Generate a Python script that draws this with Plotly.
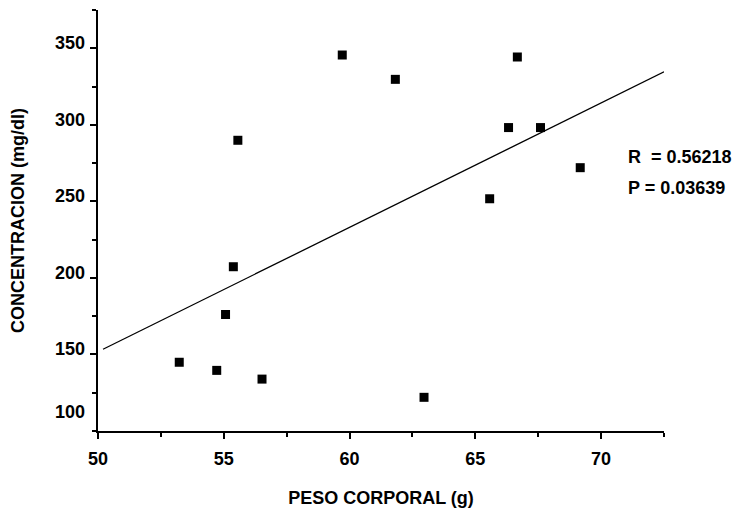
import plotly.graph_objects as go

# Data
peso = [53.23, 54.72, 55.07, 55.38, 55.56, 56.52, 59.71, 61.82, 62.96, 65.57, 66.32, 66.67, 67.59, 69.17]
concentracion = [144.9, 139.6, 176.1, 207.3, 289.9, 133.9, 345.6, 329.7, 122.0, 251.7, 298.2, 344.3, 298.2, 272.0]

fit_x = [50.2, 72.5]
fit_y = [153.4, 334.6]

x_ticks = [50, 55, 60, 65, 70]
y_ticks = [100, 150, 200, 250, 300, 350]
y_tick_labels = ["100", "150", "200", "250", "300", "350"]
stats_text = ["R  = 0.56218", "P = 0.03639"]

FONT = "Liberation Sans, Arial, sans-serif"

fig = go.Figure()
fig.add_trace(go.Scatter(
    x=fit_x, y=fit_y, mode="lines",
    line=dict(color="black", width=1.3), showlegend=False, hoverinfo="skip"))
fig.add_trace(go.Scatter(
    x=peso, y=concentracion, mode="markers",
    marker=dict(symbol="square", size=9, color="black"),
    showlegend=False))

fig.update_layout(
    width=742, height=513,
    margin=dict(l=98, r=78, t=10, b=82, autoexpand=False),
    paper_bgcolor="white", plot_bgcolor="white",
    font=dict(family=FONT, color="black", size=18),
    xaxis=dict(
        range=[50, 72.5], tickvals=x_ticks, ticktext=[str(v) for v in x_ticks],
        showgrid=False, zeroline=False, showline=True, linecolor="black", linewidth=2,
        ticks="outside", ticklen=6, tickwidth=2, tickcolor="black",
        minor=dict(dtick=2.5, tick0=50, ticks="outside", ticklen=4, tickwidth=1.5, tickcolor="black", showgrid=False),
        tickfont=dict(family=FONT, size=18, color="black", weight="bold"),
        ticklabelstandoff=4, automargin=False,
        title=dict(text="<b>PESO CORPORAL (g)</b>", font=dict(family=FONT, size=18), standoff=24),
    ),
    yaxis=dict(
        range=[100, 375], tickvals=y_ticks[1:], showticklabels=False,
        showgrid=False, zeroline=False, showline=True, linecolor="black", linewidth=2,
        ticks="outside", ticklen=6, tickwidth=2, tickcolor="black",
        minor=dict(dtick=25, tick0=100, ticks="outside", ticklen=4, tickwidth=1.5, tickcolor="black", showgrid=False),
        automargin=False,
        title=dict(text="<b>CONCENTRACION (mg/dl)</b>", font=dict(family=FONT, size=18), standoff=61),
    ),
)

# y tick labels sit a little above their ticks in the original (the 100 well above the axis)
for v, lab in zip(y_ticks, y_tick_labels):
    fig.add_annotation(
        x=0, xref="paper", y=v, yref="y", text="<b>" + lab + "</b>",
        showarrow=False, xanchor="right", yanchor="middle", xshift=-11,
        yshift=19 if v == 100 else 5,
        font=dict(family=FONT, size=18, color="black"))

fig.add_annotation(
    x=1.0, xref="paper", y=0.652, yref="paper", xanchor="left", yanchor="middle",
    text="<b>" + stats_text[0] + "</b>", showarrow=False, xshift=-38,
    font=dict(family=FONT, size=18, color="black"))
fig.add_annotation(
    x=1.0, xref="paper", y=0.578, yref="paper", xanchor="left", yanchor="middle",
    text="<b>" + stats_text[1] + "</b>", showarrow=False, xshift=-38,
    font=dict(family=FONT, size=18, color="black"))

fig.write_html("out.html", config={"displayModeBar": False},
               post_script="document.body.style.margin='0px';document.body.style.overflow='hidden';")
